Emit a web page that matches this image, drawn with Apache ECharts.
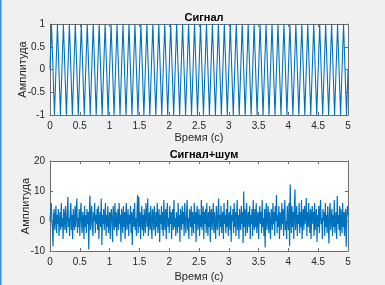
<!DOCTYPE html>
<html>
<head>
<meta charset="utf-8">
<script src="https://cdn.jsdelivr.net/npm/echarts@6/dist/echarts.min.js"></script>
<style>
  html, body { margin: 0; padding: 0; background: #f0f0f0; }
  #chart { width: 385px; height: 285px; }
</style>
</head>
<body>
<div id="chart"></div>
<script>
// Signal: turning points of the 10 Hz sine (time, amplitude)
var sigT = [0,
  0.025, 0.075, 0.125, 0.175, 0.225, 0.275, 0.325, 0.375, 0.425, 0.475,
  0.525, 0.575, 0.625, 0.675, 0.725, 0.775, 0.825, 0.875, 0.925, 0.975,
  1.025, 1.075, 1.125, 1.175, 1.225, 1.275, 1.325, 1.375, 1.425, 1.475,
  1.525, 1.575, 1.625, 1.675, 1.725, 1.775, 1.825, 1.875, 1.925, 1.975,
  2.025, 2.075, 2.125, 2.175, 2.225, 2.275, 2.325, 2.375, 2.425, 2.475,
  2.525, 2.575, 2.625, 2.675, 2.725, 2.775, 2.825, 2.875, 2.925, 2.975,
  3.025, 3.075, 3.125, 3.175, 3.225, 3.275, 3.325, 3.375, 3.425, 3.475,
  3.525, 3.575, 3.625, 3.675, 3.725, 3.775, 3.825, 3.875, 3.925, 3.975,
  4.025, 4.075, 4.125, 4.175, 4.225, 4.275, 4.325, 4.375, 4.425, 4.475,
  4.525, 4.575, 4.625, 4.675, 4.725, 4.775, 4.825, 4.875, 4.925, 4.975,
  5];
var sigY = [0,
  1, -1, 1, -1, 1, -1, 1, -1, 1, -1,
  1, -1, 1, -1, 1, -1, 1, -1, 1, -1,
  1, -1, 1, -1, 1, -1, 1, -1, 1, -1,
  1, -1, 1, -1, 1, -1, 1, -1, 1, -1,
  1, -1, 1, -1, 1, -1, 1, -1, 1, -1,
  1, -1, 1, -1, 1, -1, 1, -1, 1, -1,
  1, -1, 1, -1, 1, -1, 1, -1, 1, -1,
  1, -1, 1, -1, 1, -1, 1, -1, 1, -1,
  1, -1, 1, -1, 1, -1, 1, -1, 1, -1,
  1, -1, 1, -1, 1, -1, 1, -1, 1, -1,
  0];

// Signal + noise, one value every 0.01 s from 0 to 5 s
var noiseDt = 0.01;
var noiseY = [
  0, 3, 6, 1, -2, -8.5, 2, 4, -3, 1,
  5, -4, 2, -1, 4, -5, 0, 3, -3, 6,
  -2, 1, -6, 4, 2, -3, 5, -1, -4, 3,
  8, -2, 1, -5, 3, 6, -3, 2, -6, 4,
  0, -3, 5, -2, 3, 7.5, -4, 1, -2, 4,
  -5, 2, 6, -1, -4, 3, 1, -6, 5, -2,
  2, -4, 4, -1, 3, -9.5, 2, 8.5, -3, 1,
  5, -2, -5, 3, 0, 6, -4, 2, -1, 4,
  -3, 5, -6, 1, 3, -2, 7.5, -8, 2, -1,
  4, -3, 1, 6, -5, 2, -2, 5, -4, 0,
  3, -6, 2, 4, -1, -7, 5, 1, -3, 6,
  -2, 3, -5, 0, 4, -3, 6, -1, 2, -7,
  4, 1, -4, 5, -2, 3, -6, 2, 6, -3,
  0, 4, -5, 2, -1, 5, -4, 3, -8, 1,
  4, -2, 6, -3, 1, -5, 3, 8.7, -4, 8,
  -2, 3, -6, 1, 5, -3, 2, -5, 4, 0,
  -4, 6, 2, -2, 7.5, -5, 1, 3, -3, 5,
  -1, -6, 4, 2, -3, 5, 0, -5, 3, -2,
  6, -4, 1, 4, -7, 2, -1, 5, -3, 3,
  -5, 7, 0, -3, 4, -6, 2, 6, -2, 1,
  -4, 5, -1, 3, -6, 2, 4, -3, 7, -2,
  1, -5, 3, 0, -4, 6, -2, 2, -7, 4,
  1, -3, 5, -1, 3, -5, 6, 0, -4, 2,
  7, -3, 1, -6, 4, 2, -2, 5, -5, 3,
  0, -4, 6, -1, 3, -7, 2, 5, -3, 1,
  4, -5, 2, -2, 7, -3, 1, 5, -6, 3,
  -1, 4, -4, 6, 0, -5, 3, -2, 5, -7,
  2, 4, -3, 1, 6, -4, 3, -1, -6, 5,
  0, -3, 4, 7.5, -5, 2, -2, 5, -4, 1,
  3, -6, 6, -1, 2, -4, 4, -2, 7, -5,
  1, 3, -3, 5, -7, 2, 0, 4, -4, 6,
  -2, 3, -5, 1, 7, -3, 2, -6, 4, 0,
  -3, 5, -1, 3, -7.3, 9.8, -2, 4, -5, 2,
  6, -4, 1, 3, -2, 5, -6, 2, -1, 4,
  -5, 7, 0, -3, 4, -2, 6, -4, 1, 3,
  -6, 2, 5, -1, 3, -4, 7, -2, 1, -5,
  4, -8.8, 2, 6, -3, 1, 5, -4, 3, -1,
  -6, 4, 2, -3, 6, -1, 3, -5, 5, 0,
  8.7, -4, 2, -2, 5, -6, 3, 1, -3, 6,
  -1, 4, -5, 2, 7, -3, 0, -6, 5, 1,
  -3, 6, -8.4, 12.2, 2, -4, 5, -2, 3, -6,
  4, 10.5, -3, 1, 5, -5, 2, -1, 6, -4,
  3, -2, 7, -6, 1, 4, -3, 5, -1, 2,
  7.7, -5, 3, -2, 6, 0, -4, 4, -6, 2,
  5, -1, 3, -5, 6, -3, 1, 4, -7, 2,
  -2, 5, -4, 3, 7, -1, 1, -6, 4, 0,
  3, -5, 6, -2, 2, -4, 5, -1, -7.5, 3,
  6, -3, 1, 4, -5, 2, -2, 7, -4, 1,
  3, -6, 8.3, -1, 2, -3, 5, -5, 4, 0,
  -4, 6, -2, 3, -5, 2, 4, -8.6, 1, 5,
  2];

var titles = ['Сигнал', 'Сигнал+шум'];
var xName = 'Время (с)';
var yName = 'Амплитуда';

var FONT = 'Liberation Sans';
var AXIS_COLOR = '#6e6e6e';
var LABEL_COLOR = '#262626';
var LINE_COLOR = '#0072BD';

var sigData = sigT.map(function (t, i) { return [t, sigY[i]]; });
var noiseData = noiseY.map(function (v, i) { return [+(i * noiseDt).toFixed(2), v]; });

function boxX(gridIndex, pos, show) {
  return {
    type: 'value', gridIndex: gridIndex, position: pos,
    min: 0, max: 5, interval: 0.5,
    name: show ? xName : '', nameLocation: 'middle', nameGap: gridIndex === 0 ? 17 : 20,
    nameTextStyle: { fontFamily: FONT, fontSize: 11, color: LABEL_COLOR },
    axisLine: { show: true, onZero: false, lineStyle: { color: AXIS_COLOR, width: 1 } },
    axisTick: { show: true, inside: true, length: 3, lineStyle: { color: AXIS_COLOR } },
    axisLabel: { show: show, fontFamily: FONT, fontSize: 10, color: LABEL_COLOR, margin: 6 },
    splitLine: { show: false }
  };
}

function boxY(gridIndex, pos, show, min, max, interval) {
  return {
    type: 'value', gridIndex: gridIndex, position: pos,
    min: min, max: max, interval: interval,
    name: show ? yName : '', nameLocation: 'middle', nameGap: gridIndex === 0 ? 22 : 19,
    nameMoveOverlap: false,
    nameRotate: 90,
    nameTextStyle: { fontFamily: FONT, fontSize: 11, color: LABEL_COLOR },
    axisLine: { show: true, onZero: false, lineStyle: { color: AXIS_COLOR, width: 1 } },
    axisTick: { show: true, inside: true, length: 3, lineStyle: { color: AXIS_COLOR } },
    axisLabel: { show: show, fontFamily: FONT, fontSize: 10, color: LABEL_COLOR, margin: 5 },
    splitLine: { show: false }
  };
}

var chart = echarts.init(document.getElementById('chart'), null, { renderer: 'canvas' });

chart.setOption({
  animation: false,
  backgroundColor: '#f0f0f0',
  title: [
    { text: titles[0], left: 199, top: 7, textAlign: 'center',
      textStyle: { fontFamily: FONT, fontSize: 11, fontWeight: 'bold', color: '#000' } },
    { text: titles[1], left: 199, top: 144, textAlign: 'center',
      textStyle: { fontFamily: FONT, fontSize: 11, fontWeight: 'bold', color: '#000' } }
  ],
  grid: [
    { left: 50, top: 24, width: 298, height: 91, show: true, backgroundColor: '#fff', borderWidth: 0 },
    { left: 50, top: 161, width: 298, height: 90, show: true, backgroundColor: '#fff', borderWidth: 0 }
  ],
  xAxis: [
    boxX(0, 'bottom', true),
    boxX(0, 'top', false),
    boxX(1, 'bottom', true),
    boxX(1, 'top', false)
  ],
  yAxis: [
    boxY(0, 'left', true, -1, 1, 0.5),
    boxY(0, 'right', false, -1, 1, 0.5),
    boxY(1, 'left', true, -10, 20, 10),
    boxY(1, 'right', false, -10, 20, 10)
  ],
  graphic: [
    { type: 'rect', shape: { x: 0, y: 0, width: 1.5, height: 285 }, style: { fill: '#3c8fd6' } }
  ],
  series: [
    {
      type: 'line', xAxisIndex: 0, yAxisIndex: 0, data: sigData,
      showSymbol: false, sampling: null,
      lineStyle: { color: LINE_COLOR, width: 1.1 }
    },
    {
      type: 'line', xAxisIndex: 2, yAxisIndex: 2, data: noiseData,
      showSymbol: false, sampling: null,
      lineStyle: { color: LINE_COLOR, width: 1.2 }
    }
  ]
});
</script>
</body>
</html>
